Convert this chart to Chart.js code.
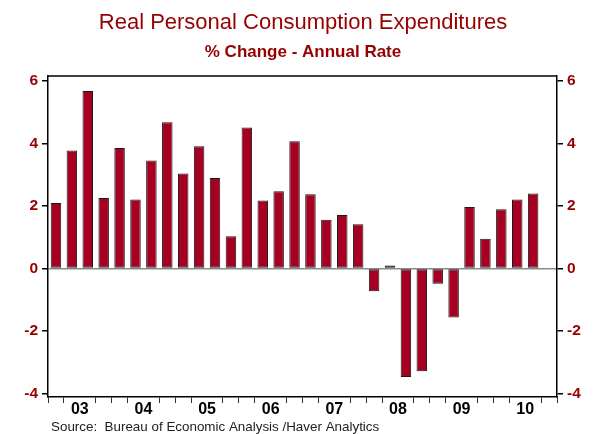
<!DOCTYPE html>
<html>
<head>
<meta charset="utf-8">
<script src="https://cdn.jsdelivr.net/npm/chart.js@4/dist/chart.umd.min.js"></script>
<style>
  html,body{margin:0;padding:0;background:#fff;}
  canvas{display:block;}
</style>
</head>
<body>
<canvas id="pce" width="602" height="434"></canvas>
<script>
// quarterly real PCE, % change annual rate (2003Q1 .. 2010Q4, last quarter not yet out)
const years = ['2003','2004','2005','2006','2007','2008','2009','2010'];
const yearLabels = ['03','04','05','06','07','08','09','10'];
const quarters = years.flatMap(y => ['Q1','Q2','Q3','Q4'].map(q => y + q));
const pceChange = [
  2.10, 3.78, 5.68, 2.26,
  3.86, 2.21, 3.46, 4.68,
  3.04, 3.91, 2.90, 1.03,
  4.51, 2.18, 2.47, 4.07,
  2.38, 1.56, 1.71, 1.42,
  -0.73, 0.10, -3.47, -3.29,
  -0.49, -1.57, 1.97, 0.95,
  1.90, 2.21, 2.40, null
];
const yTicks = [-4, -2, 0, 2, 4, 6];

const RED = '#960000';
const FONT = "'Liberation Sans', Arial, sans-serif";

// titles, frame top line, year labels under the axis, source note
const decor = {
  id:'decor',
  afterDraw(chart){
    const {ctx, chartArea:a, scales} = chart;
    const xs = scales.x;
    ctx.save();
    ctx.strokeStyle='#000'; ctx.lineWidth=1.5;
    ctx.beginPath(); ctx.moveTo(a.left, a.top); ctx.lineTo(a.right, a.top); ctx.stroke();

    ctx.fillStyle=RED; ctx.textAlign='center'; ctx.textBaseline='alphabetic';
    ctx.font=`22px ${FONT}`;
    ctx.fillText('Real Personal Consumption Expenditures', 303, 29);
    ctx.font=`bold 17px ${FONT}`;
    ctx.fillText('% Change - Annual Rate', 303, 57);

    ctx.fillStyle='#000'; ctx.font=`bold 16px ${FONT}`; ctx.textBaseline='middle';
    yearLabels.forEach((lab,i)=>{
      const x=(xs.getPixelForValue(i*4+1)+xs.getPixelForValue(i*4+2))/2;
      ctx.fillText(lab, x, 410);
    });

    ctx.fillStyle='#222'; ctx.font=`13.4px ${FONT}`; ctx.textAlign='left'; ctx.textBaseline='alphabetic';
    ctx.fillText('Source:  Bureau of Economic Analysis /Haver Analytics', 51, 431);
    ctx.restore();
  }
};

const yAxis = (pos, width, zeroLine) => ({
  type:'linear', position:pos, min:-4.11, max:6.16,
  afterFit:s=>{ s.width=width; },
  afterBuildTicks:s=>{ s.ticks = yTicks.map(v=>({value:v})); },
  border:{display:true, color:'#000', width:1.5},
  grid:{
    drawOnChartArea:zeroLine, drawTicks:true, tickLength:6,
    color:c=> (zeroLine && c.tick && c.tick.value===0) ? '#8a8a8a' : 'rgba(0,0,0,0)',
    tickColor:'#000', lineWidth:1.5, tickWidth:1.5
  },
  ticks:{color:RED, padding:4, font:{family:FONT, size:15.5, weight:'bold'}}
});

new Chart(document.getElementById('pce'), {
  type:'bar',
  data:{
    labels:quarters,
    datasets:[{
      data:pceChange,
      backgroundColor:'#a50021',
      borderColor:'#1a1a1a',
      borderWidth:1,
      borderSkipped:false,
      barPercentage:0.66,
      categoryPercentage:1
    }]
  },
  options:{
    responsive:false, animation:false, devicePixelRatio:1,
    layout:{padding:{top:76, left:0, right:0, bottom:0}},
    plugins:{legend:{display:false}, tooltip:{enabled:false}, title:{display:false}},
    scales:{
      x:{
        offset:true,
        afterFit:s=>{ s.height=37; },
        border:{display:true, color:'#000', width:1.5},
        grid:{
          offset:true, drawOnChartArea:false, drawTicks:true, tickLength:6,
          tickColor:c=> (c.index!==undefined && c.index%4===2) ? 'rgba(0,0,0,0)' : '#333',
          tickWidth:1
        },
        ticks:{display:false, autoSkip:false}
      },
      y:yAxis('left', 48, true),
      y2:yAxis('right', 45, false)
    }
  },
  plugins:[decor]
});
</script>
</body>
</html>
